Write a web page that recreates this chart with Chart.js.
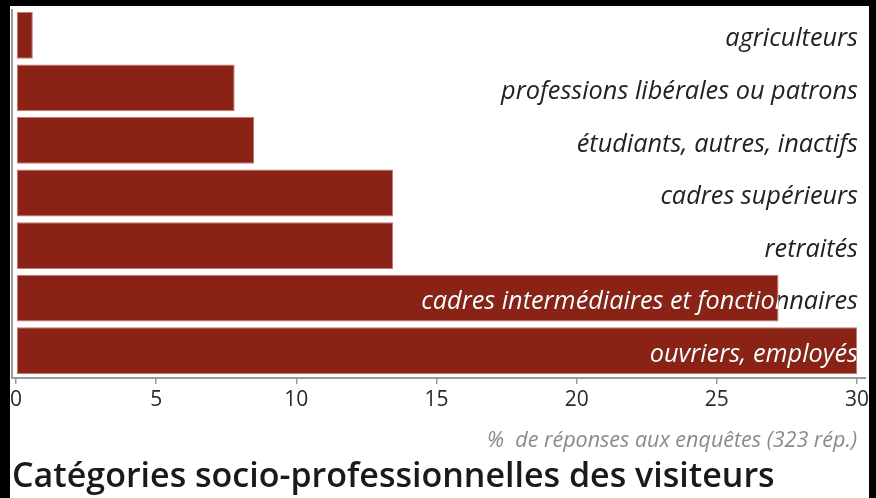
<!DOCTYPE html>
<html>
<head>
<meta charset="utf-8">
<script src="https://cdn.jsdelivr.net/npm/chart.js@4"></script>
<style>
  html, body { margin: 0; padding: 0; background: #000; }
  #frame { position: absolute; left: 10px; top: 6px; width: 859px; height: 492px; background: #fff; }
  canvas { display: block; }
</style>
</head>
<body>
<div id="frame"><canvas id="c" width="859" height="492"></canvas></div>
<script>
// Catégories socio-professionnelles, % des réponses
const categories = [
  'agriculteurs',
  'professions libérales ou patrons',
  'étudiants, autres, inactifs',
  'cadres supérieurs',
  'retraités',
  'cadres intermédiaires et fonctionnaires',
  'ouvriers, employés'
];
const percentages = [0.6, 7.8, 8.5, 13.45, 13.45, 27.2, 30.0];
const tickValues = [0, 5, 10, 15, 20, 25, 30];

const BAR = '#8a2315';
const LABEL_FONT = 'italic 25.3px "Open Sans"';

// Category names written at the right, dark on white and white over the bar
const barLabels = {
  id: 'barLabels',
  afterDatasetsDraw(chart) {
    const ctx = chart.ctx;
    const meta = chart.getDatasetMeta(0);
    const xr = chart.chartArea.right + 1;
    meta.data.forEach((bar, i) => {
      const p = bar.getProps(['x', 'y', 'base', 'height'], true);
      const text = chart.data.labels[i];
      ctx.save();
      ctx.font = LABEL_FONT;
      ctx.textAlign = 'right';
      ctx.textBaseline = 'middle';
      ctx.fillStyle = '#222';
      ctx.fillText(text, xr, p.y + 4);
      ctx.beginPath();
      ctx.rect(p.base, p.y - p.height / 2, p.x - p.base, p.height);
      ctx.clip();
      ctx.fillStyle = '#fff';
      ctx.fillText(text, xr, p.y + 4);
      ctx.restore();
    });
  }
};

// Axis lines, starting a little left of zero
const axisLines = {
  id: 'axisLines',
  afterDraw(chart) {
    const ctx = chart.ctx;
    const a = chart.chartArea;
    ctx.save();
    ctx.strokeStyle = '#9a9a9a';
    ctx.lineWidth = 2;
    ctx.beginPath();
    ctx.moveTo(a.left - 4, a.top);
    ctx.lineTo(a.left - 4, a.bottom + 1);
    ctx.moveTo(a.left - 5, a.bottom + 1);
    ctx.lineTo(a.right + 9, a.bottom + 1);
    ctx.stroke();
    ctx.restore();
  }
};

new Chart(document.getElementById('c'), {
  type: 'bar',
  data: {
    labels: categories,
    datasets: [{
      data: percentages,
      backgroundColor: BAR,
      borderColor: '#c07a70',
      borderWidth: 1,
      borderSkipped: false,
      barPercentage: 0.89,
      categoryPercentage: 1.0
    }]
  },
  options: {
    indexAxis: 'y',
    responsive: false,
    animation: false,
    devicePixelRatio: 1,
    layout: { padding: { left: 2, right: 12, top: 3, bottom: 0 } },
    plugins: {
      legend: { display: false },
      tooltip: { enabled: false },
      title: {
        display: true,
        text: 'Catégories socio-professionnelles des visiteurs',
        position: 'bottom',
        align: 'start',
        color: '#1a1a1a',
        font: { family: '"Open Sans"', size: 34, weight: '600', lineHeight: 1.2 },
        padding: { top: 0, bottom: 0 }
      }
    },
    scales: {
      y: {
        afterFit(scale) { scale.width = 4; },
        ticks: { display: false },
        grid: { display: false },
        border: { display: false }
      },
      x: {
        min: 0,
        max: 30,
        afterBuildTicks(scale) { scale.ticks = tickValues.map(v => ({ value: v })); },
        afterFit(scale) {
          scale.height = 80.2;
          scale.paddingLeft = 0;
          scale.paddingRight = 0;
        },
        border: { display: false },
        grid: { drawOnChartArea: false, drawTicks: true, tickLength: 7, color: '#9a9a9a', lineWidth: 1.5 },
        ticks: { color: '#2a2a2a', padding: 3, font: { family: '"Open Sans"', size: 21 } },
        title: {
          display: true,
          align: 'end',
          text: '%  de réponses aux enquêtes (323 rép.)',
          color: '#8a8a8a',
          font: { family: '"Open Sans"', size: 21.5, style: 'italic' },
          padding: { top: 0, bottom: 3 }
        }
      }
    }
  },
  plugins: [barLabels, axisLines]
});
</script>
</body>
</html>
